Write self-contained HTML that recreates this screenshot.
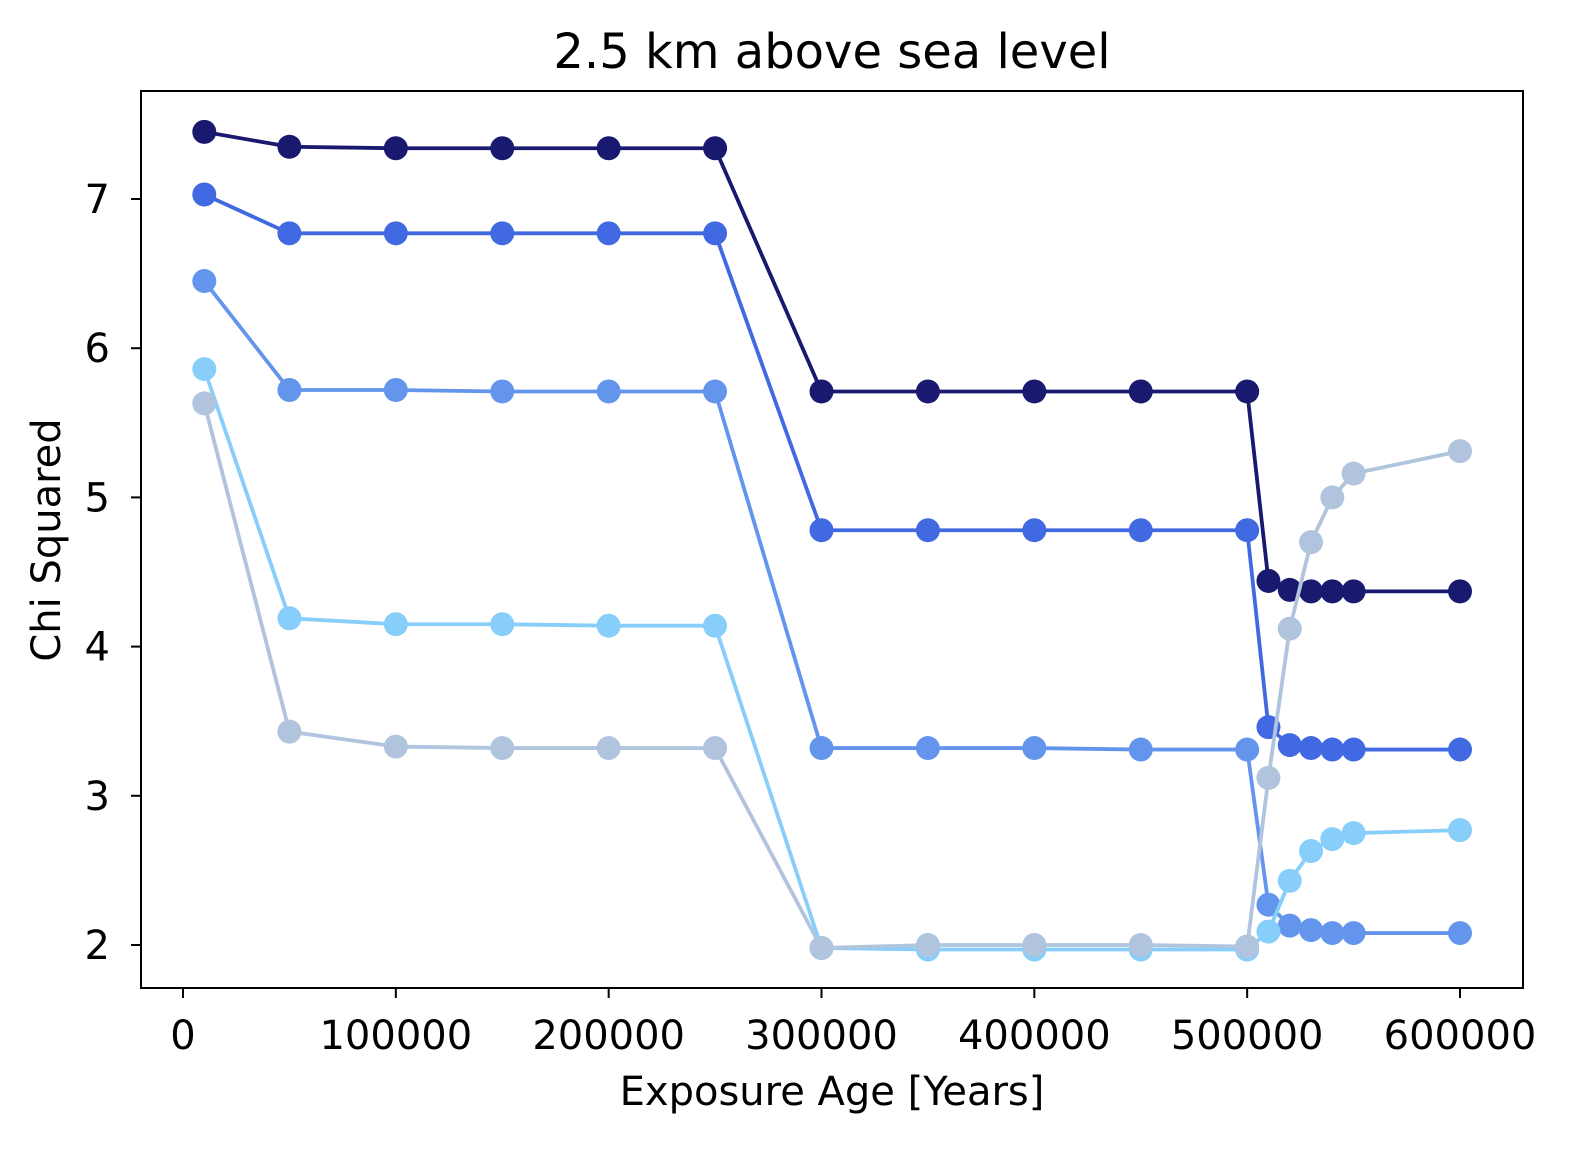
<!DOCTYPE html>
<html><head><meta charset="utf-8"><style>
html,body{margin:0;padding:0;background:#fff;}
svg{display:block;font-family:"DejaVu Sans","Liberation Sans",sans-serif;}
</style></head><body>
<svg id="chart" width="1583" height="1154" viewBox="0 0 1583 1154" xmlns="http://www.w3.org/2000/svg">
<rect width="1583" height="1154" fill="#fff"/>
<text x="832" y="68" font-size="48" text-anchor="middle">2.5 km above sea level</text>
<text x="832" y="1105" font-size="40" text-anchor="middle">Exposure Age [Years]</text>
<text transform="translate(60,540) rotate(-90)" font-size="40" text-anchor="middle">Chi Squared</text>
<g id="marks"></g>
<g id="axes"></g>
<rect x="141" y="91" width="1382" height="897" fill="none" stroke="#000" stroke-width="2"/>
</svg>
<script>
const xValues = [10000,50000,100000,150000,200000,250000,300000,350000,400000,450000,500000,510000,520000,530000,540000,550000,600000];
const seriesNavy = [7.45,7.35,7.34,7.34,7.34,7.34,5.71,5.71,5.71,5.71,5.71,4.44,4.38,4.37,4.37,4.37,4.37];
const seriesRoyal = [7.03,6.77,6.77,6.77,6.77,6.77,4.78,4.78,4.78,4.78,4.78,3.46,3.34,3.32,3.31,3.31,3.31];
const seriesCornflower = [6.45,5.72,5.72,5.71,5.71,5.71,3.32,3.32,3.32,3.31,3.31,2.27,2.13,2.10,2.08,2.08,2.08];
const seriesSky = [5.86,4.19,4.15,4.15,4.14,4.14,1.98,1.97,1.97,1.97,1.97,2.09,2.43,2.63,2.71,2.75,2.77];
const seriesSteel = [5.63,3.43,3.33,3.32,3.32,3.32,1.98,2.00,2.00,2.00,1.99,3.12,4.12,4.70,5.00,5.16,5.31];
const xTicks = [0,100000,200000,300000,400000,500000,600000];
const yTicks = [2,3,4,5,6,7];

const NS = "http://www.w3.org/2000/svg";
const xs = v => 183 + v * (1460 - 183) / 600000;
const ys = v => 945 - (v - 2) * (945 - 199) / 5;
const marks = document.getElementById('marks');
const axes = document.getElementById('axes');

const series = [
  ['series-navy', seriesNavy, '#191970'],
  ['series-royal-blue', seriesRoyal, '#4169E1'],
  ['series-cornflower', seriesCornflower, '#6495ED'],
  ['series-light-sky-blue', seriesSky, '#87CEFA'],
  ['series-light-steel-blue', seriesSteel, '#B0C4DE']
];
series.forEach(([name, vals, col]) => {
  const g = document.createElementNS(NS, 'g');
  
  
  const pl = document.createElementNS(NS, 'polyline');
  
  
  pl.setAttribute('points', vals.map((v, i) => xs(xValues[i]) + ',' + ys(v)).join(' '));
  pl.setAttribute('fill', 'none');
  pl.setAttribute('stroke', col);
  pl.setAttribute('stroke-width', '3.8');
  g.appendChild(pl);
  vals.forEach((v, i) => {
    const c = document.createElementNS(NS, 'circle');
    
    
    c.setAttribute('cx', xs(xValues[i]));
    c.setAttribute('cy', ys(v));
    c.setAttribute('r', '12');
    c.setAttribute('fill', col);
    g.appendChild(c);
  });
  marks.appendChild(g);
});

xTicks.forEach(t => {
  const l = document.createElementNS(NS, 'line');
  
  
  l.setAttribute('x1', xs(t)); l.setAttribute('x2', xs(t));
  l.setAttribute('y1', 988); l.setAttribute('y2', 998);
  l.setAttribute('stroke', '#000'); l.setAttribute('stroke-width', '2');
  axes.appendChild(l);
  const tx = document.createElementNS(NS, 'text');
  
  
  tx.setAttribute('x', xs(t)); tx.setAttribute('y', 1049);
  tx.setAttribute('font-size', '40'); tx.setAttribute('text-anchor', 'middle');
  tx.textContent = String(t);
  axes.appendChild(tx);
});
yTicks.forEach(t => {
  const l = document.createElementNS(NS, 'line');
  
  
  l.setAttribute('x1', 131); l.setAttribute('x2', 141);
  l.setAttribute('y1', ys(t)); l.setAttribute('y2', ys(t));
  l.setAttribute('stroke', '#000'); l.setAttribute('stroke-width', '2');
  axes.appendChild(l);
  const tx = document.createElementNS(NS, 'text');
  
  
  tx.setAttribute('x', 110); tx.setAttribute('y', ys(t) + 14);
  tx.setAttribute('font-size', '40'); tx.setAttribute('text-anchor', 'end');
  tx.textContent = String(t);
  axes.appendChild(tx);
});
</script>
</body></html>
